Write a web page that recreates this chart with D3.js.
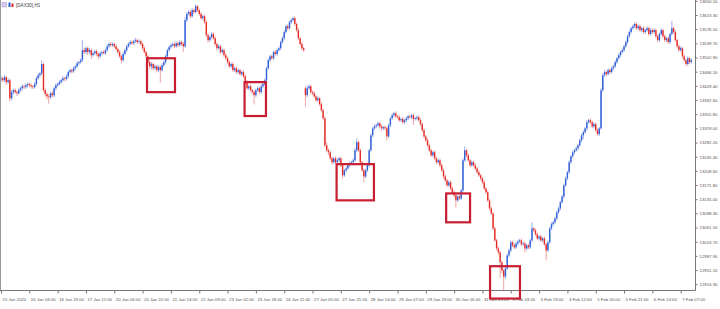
<!DOCTYPE html>
<html>
<head>
<meta charset="utf-8">
<script src="https://cdn.jsdelivr.net/npm/d3@7"></script>
<style>
body { margin: 0; background: #fff; }
svg { display: block; }
</style>
</head>
<body>
<svg id="chart"></svg>
<script>
// DAX30 H1 closes, one row per 16 bars (one time label)
var closes = [
    13449,13444,13452,13439,13444,13397,13413,13418,13413,13410,13418,13423,13428,13426,13431,13434,
    13431,13428,13426,13434,13449,13457,13462,13486,13418,13408,13402,13400,13410,13405,13423,13431,
    13434,13439,13444,13449,13447,13454,13465,13470,13467,13475,13480,13488,13491,13496,13522,13517,
    13527,13517,13522,13509,13514,13519,13512,13506,13514,13517,13514,13522,13532,13538,13535,13538,
    13532,13525,13517,13506,13496,13512,13522,13532,13538,13543,13540,13545,13548,13543,13545,13538,
    13527,13517,13506,13491,13480,13486,13475,13480,13470,13478,13470,13483,13491,13506,13522,13530,
    13535,13538,13532,13540,13535,13543,13538,13532,13600,13616,13621,13610,13626,13621,13636,13626,
    13616,13605,13610,13595,13561,13548,13556,13564,13553,13538,13527,13532,13517,13522,13509,13501,
    13491,13480,13486,13470,13475,13465,13470,13460,13465,13454,13439,13423,13428,13418,13413,13405,
    13418,13423,13413,13428,13434,13444,13475,13496,13506,13501,13517,13512,13522,13527,13543,13553,
    13569,13584,13579,13595,13600,13605,13590,13574,13553,13538,13527,13522,13405,13423,13428,13413,
    13410,13402,13392,13397,13382,13366,13345,13275,13262,13257,13241,13231,13241,13231,13236,13241,
    13223,13197,13210,13215,13223,13228,13231,13236,13262,13283,13262,13231,13210,13194,13210,13223,
    13262,13301,13319,13324,13327,13332,13324,13319,13322,13319,13298,13327,13345,13353,13358,13350,
    13348,13340,13343,13335,13340,13345,13350,13348,13353,13343,13345,13348,13340,13330,13314,13298,
    13288,13275,13262,13249,13257,13241,13231,13236,13223,13210,13194,13184,13171,13179,13163,13153,
    13145,13132,13142,13137,13158,13236,13262,13249,13236,13223,13231,13223,13215,13205,13197,13189,
    13179,13163,13153,13132,13111,13098,13059,13028,13007,12997,12971,12950,12934,12955,12989,13002,
    13023,13015,13010,13020,13025,13028,13018,13020,13007,13015,13010,13028,13059,13054,13044,13033,
    13038,13028,13033,13018,13002,13023,13059,13070,13075,13085,13101,13111,13127,13142,13171,13189,
    13205,13231,13246,13257,13262,13267,13275,13288,13301,13309,13319,13335,13340,13335,13324,13330,
    13314,13304,13319,13418,13457,13465,13460,13470,13465,13475,13480,13491,13501,13509,13517,13522,
    13532,13543,13558,13569,13579,13584,13590,13579,13584,13574,13579,13569,13574,13579,13564,13574,
    13569,13574,13558,13548,13564,13574,13558,13548,13553,13543,13564,13579,13569,13548,13532,13522,
    13527,13506,13496,13486,13501,13491,13496
];

var highs = [
    13454,13453,13458,13455,13449,13448,13419,13422,13423,13417,13423,13427,13434,13431,13436,13438,
    13438,13436,13431,13439,13453,13462,13466,13496,13489,13423,13412,13408,13414,13415,13427,13436,
    13438,13444,13448,13455,13453,13459,13469,13475,13474,13480,13484,13493,13495,13501,13548,13528,
    13532,13531,13528,13526,13519,13523,13524,13516,13519,13521,13522,13526,13537,13542,13544,13542,
    13542,13537,13529,13522,13510,13517,13526,13537,13542,13548,13547,13550,13554,13552,13550,13549,
    13542,13532,13521,13511,13495,13491,13490,13485,13484,13483,13482,13488,13495,13511,13526,13535,
    13539,13543,13542,13545,13544,13548,13547,13543,13608,13621,13627,13625,13631,13630,13642,13639,
    13630,13621,13614,13615,13599,13566,13560,13569,13568,13558,13542,13537,13536,13527,13526,13514,
    13505,13496,13490,13491,13479,13480,13474,13475,13469,13470,13458,13444,13432,13433,13422,13418,
    13422,13428,13427,13433,13438,13449,13479,13501,13510,13511,13521,13522,13526,13532,13547,13558,
    13574,13588,13589,13599,13605,13609,13610,13594,13579,13557,13543,13531,13428,13429,13433,13432,
    13417,13415,13406,13402,13401,13387,13370,13350,13283,13267,13261,13246,13245,13246,13242,13245,
    13245,13228,13214,13220,13227,13233,13235,13241,13268,13293,13287,13267,13235,13215,13214,13228,
    13266,13306,13323,13329,13331,13337,13336,13329,13326,13327,13323,13332,13349,13358,13362,13363,
    13354,13353,13347,13348,13344,13350,13354,13355,13357,13358,13349,13353,13352,13345,13334,13319,
    13302,13293,13279,13267,13261,13262,13245,13241,13240,13228,13214,13199,13188,13184,13183,13168,
    13157,13150,13146,13147,13162,13242,13272,13266,13254,13240,13236,13235,13228,13219,13210,13201,
    13193,13184,13167,13158,13136,13116,13102,13064,13032,13012,13001,12976,12954,12960,12993,13007,
    13028,13027,13020,13024,13030,13032,13033,13024,13025,13019,13020,13032,13075,13063,13059,13048,
    13042,13043,13037,13038,13022,13028,13063,13075,13079,13090,13105,13116,13131,13147,13175,13194,
    13209,13236,13250,13262,13266,13272,13279,13293,13305,13314,13323,13340,13344,13345,13339,13335,
    13334,13319,13323,13424,13462,13471,13469,13475,13474,13480,13484,13496,13505,13514,13521,13527,
    13536,13548,13562,13574,13583,13589,13594,13595,13588,13589,13583,13584,13578,13584,13583,13579,
    13578,13579,13578,13563,13568,13579,13578,13563,13557,13558,13568,13598,13583,13574,13552,13537,
    13532,13531,13511,13500,13506,13505,13501
];

var lows = [
    13440,13439,13440,13432,13435,13389,13392,13407,13409,13403,13406,13413,13417,13422,13421,13425,
    13426,13422,13421,13422,13429,13445,13451,13457,13413,13402,13394,13383,13395,13399,13400,13418,
    13426,13430,13434,13440,13441,13443,13449,13461,13462,13463,13470,13476,13483,13487,13491,13512,
    13512,13509,13513,13499,13505,13509,13506,13498,13502,13509,13510,13509,13518,13527,13531,13530,
    13527,13521,13512,13502,13488,13491,13508,13517,13528,13533,13536,13535,13541,13538,13539,13533,
    13522,13513,13501,13487,13474,13472,13470,13471,13464,13465,13438,13466,13478,13487,13501,13518,
    13525,13531,13527,13528,13530,13531,13533,13517,13528,13595,13612,13605,13606,13616,13617,13621,
    13611,13601,13600,13591,13556,13542,13544,13551,13549,13533,13521,13523,13512,13513,13504,13497,
    13486,13476,13475,13466,13465,13461,13460,13456,13455,13450,13434,13419,13418,13414,13408,13381,
    13400,13414,13408,13409,13423,13430,13439,13471,13491,13497,13496,13508,13507,13518,13522,13539,
    13548,13565,13574,13575,13590,13596,13585,13570,13548,13534,13522,13518,13375,13400,13419,13408,
    13405,13398,13387,13388,13377,13362,13340,13269,13257,13249,13236,13225,13227,13226,13227,13231,
    13218,13189,13193,13205,13211,13218,13224,13226,13232,13257,13258,13226,13206,13179,13190,13205,
    13218,13258,13296,13315,13319,13323,13319,13313,13315,13314,13288,13294,13322,13341,13348,13346,
    13343,13336,13335,13331,13330,13336,13340,13344,13343,13328,13339,13340,13336,13325,13310,13293,
    13283,13271,13257,13245,13244,13237,13226,13227,13218,13206,13189,13180,13166,13167,13158,13149,
    13140,13113,13128,13132,13133,13153,13232,13244,13232,13218,13219,13218,13211,13200,13193,13184,
    13174,13159,13148,13128,13106,13094,13054,13024,13002,12991,12930,12942,12893,12928,12951,12984,
    12997,13011,13005,13006,13015,13021,13013,13014,12997,13003,13005,13006,13023,13050,13039,13029,
    13028,13024,13023,13014,12976,12998,13018,13055,13065,13071,13080,13097,13106,13123,13137,13167,
    13184,13201,13226,13242,13252,13258,13262,13271,13283,13291,13305,13314,13331,13330,13320,13319,
    13309,13300,13299,13315,13413,13453,13455,13456,13460,13461,13470,13476,13486,13497,13504,13513,
    13517,13528,13538,13554,13564,13575,13579,13575,13574,13570,13569,13565,13564,13570,13559,13560,
    13564,13565,13553,13544,13543,13560,13553,13544,13543,13539,13538,13560,13564,13544,13527,13518,
    13518,13501,13492,13480,13482,13486,13487
];

// open of the first bar and of the bar after the weekend gap
var firstOpen = 13446;
var gapOpens = { 172: 13423 };

var timeLabels = ["15 Jan 2020", "16 Jan 03:00", "16 Jan 19:00", "17 Jan 11:00", "20 Jan 06:00",
    "20 Jan 22:00", "21 Jan 14:00", "22 Jan 09:00", "23 Jan 02:00", "23 Jan 18:00", "24 Jan 11:00",
    "27 Jan 05:00", "27 Jan 21:00", "28 Jan 14:00", "29 Jan 07:00", "29 Jan 23:00", "30 Jan 16:00",
    "31 Jan 09:00", "3 Feb 03:00", "3 Feb 19:00", "4 Feb 12:00", "5 Feb 05:00", "5 Feb 21:00",
    "6 Feb 14:00", "7 Feb 07:00"];
var barsPerLabel = 16;

var priceTicks = [12914.30, 12951.10, 12987.90, 13024.70, 13061.50, 13098.30, 13135.00, 13171.80,
    13208.60, 13245.40, 13282.20, 13319.00, 13355.80, 13392.60, 13429.40, 13466.10, 13502.90,
    13539.70, 13576.50, 13613.30, 13650.10];

// highlighted zones: bar range and price range
var zoneStart = [82.5, 137.6, 189.6, 251.5, 276.3];
var zoneEnd = [98.3, 149.7, 210.7, 265.0, 293.2];
var zoneTop = [13501, 13439, 13226, 13150, 12961];
var zoneBottom = [13413, 13351, 13132, 13075, 12877];

var width = 720, height = 309;
var plotRight = 695, plotBottom = 290;

var svg = d3.select("#chart")
    .attr("width", width)
    .attr("height", height);

var candles = closes.map(function(c, i) {
    var o = gapOpens[i] !== undefined ? gapOpens[i] : (i === 0 ? firstOpen : closes[i - 1]);
    return { i: i, o: o, h: highs[i], l: lows[i], c: c };
});

var xScale = d3.scaleLinear().domain([0, closes.length - 1]).range([1, 691.3]);
var yScale = d3.scaleLinear().domain([12914.3, 13613.3]).range([284.2, 15]);

svg.append("defs").append("clipPath").attr("id", "plot")
    .append("rect").attr("x", 0).attr("y", 0).attr("width", plotRight).attr("height", plotBottom);

var plot = svg.append("g").attr("clip-path", "url(#plot)");

// wicks
plot.selectAll(".wick")
    .data(candles)
    .enter().append("line")
    .attr("class", "wick")
    .attr("x1", d => xScale(d.i))
    .attr("x2", d => xScale(d.i))
    .attr("y1", d => yScale(d.h))
    .attr("y2", d => yScale(d.l))
    .attr("stroke", d => d.c >= d.o ? "#9fb0ea" : "#eea2a2")
    .attr("stroke-width", 1);

// bodies
plot.selectAll(".body")
    .data(candles)
    .enter().append("rect")
    .attr("class", "body")
    .attr("x", d => xScale(d.i) - 0.7)
    .attr("width", 1.4)
    .attr("y", d => yScale(Math.max(d.o, d.c)))
    .attr("height", d => Math.max(0.8, Math.abs(yScale(d.o) - yScale(d.c))))
    .attr("fill", d => d.c >= d.o ? "#2f5fd6" : "#e52b25");

// frame
svg.append("line").attr("x1", 0.5).attr("x2", 0.5).attr("y1", 0).attr("y2", plotBottom)
    .attr("stroke", "#999");
svg.append("line").attr("x1", plotRight + 0.5).attr("x2", plotRight + 0.5).attr("y1", 0).attr("y2", plotBottom + 0.5)
    .attr("stroke", "#777");
svg.append("line").attr("x1", 0).attr("x2", plotRight + 0.5).attr("y1", plotBottom + 0.5).attr("y2", plotBottom + 0.5)
    .attr("stroke", "#777");

// price axis
var yAxis = svg.append("g")
    .attr("transform", "translate(" + (plotRight + 0.5) + ",0)")
    .call(d3.axisRight(yScale).tickValues(priceTicks).tickSize(2).tickPadding(2)
        .tickFormat(d3.format(".2f")));
yAxis.select(".domain").remove();
yAxis.selectAll(".tick line").attr("stroke", "#777");
yAxis.selectAll("text")
    .attr("font-family", "Liberation Sans, Arial, sans-serif")
    .attr("font-size", 4.3)
    .attr("fill", "#555");

// time axis
var xAxis = svg.append("g")
    .attr("transform", "translate(0," + (plotBottom + 0.5) + ")")
    .call(d3.axisBottom(xScale)
        .tickValues(timeLabels.map((t, k) => k * barsPerLabel))
        .tickSize(3)
        .tickFormat((d, k) => timeLabels[k]));
xAxis.select(".domain").remove();
xAxis.selectAll(".tick line").attr("stroke", "#777");
xAxis.selectAll("text")
    .attr("text-anchor", "start")
    .attr("x", 1)
    .attr("y", 10)
    .attr("dy", 0)
    .attr("font-family", "Liberation Sans, Arial, sans-serif")
    .attr("font-size", 4.3)
    .attr("fill", "#555");

// highlighted zones
svg.selectAll(".zone")
    .data(zoneStart)
    .enter().append("rect")
    .attr("class", "zone")
    .attr("x", (d, k) => xScale(zoneStart[k]))
    .attr("y", (d, k) => yScale(zoneTop[k]))
    .attr("width", (d, k) => xScale(zoneEnd[k]) - xScale(zoneStart[k]))
    .attr("height", (d, k) => yScale(zoneBottom[k]) - yScale(zoneTop[k]))
    .attr("fill", "none")
    .attr("stroke", "#c81e32")
    .attr("stroke-width", 2.2);

// title with symbol icons
var title = svg.append("g");
title.append("rect").attr("x", 2).attr("y", 2.5).attr("width", 4.5).attr("height", 4.5)
    .attr("fill", "#d8c8ee").attr("stroke", "#a898cc").attr("stroke-width", 0.5);
title.append("rect").attr("x", 8.5).attr("y", 2.5).attr("width", 2).attr("height", 4.5).attr("fill", "#2f5fd6");
title.append("rect").attr("x", 11.5).attr("y", 3.5).attr("width", 2).attr("height", 3.5).attr("fill", "#e52b25");
title.append("text")
    .attr("x", 16)
    .attr("y", 6.6)
    .attr("font-family", "Liberation Sans, Arial, sans-serif")
    .attr("font-size", 4.6)
    .attr("fill", "#444")
    .text("[DAX30],H1");
</script>
</body>
</html>
